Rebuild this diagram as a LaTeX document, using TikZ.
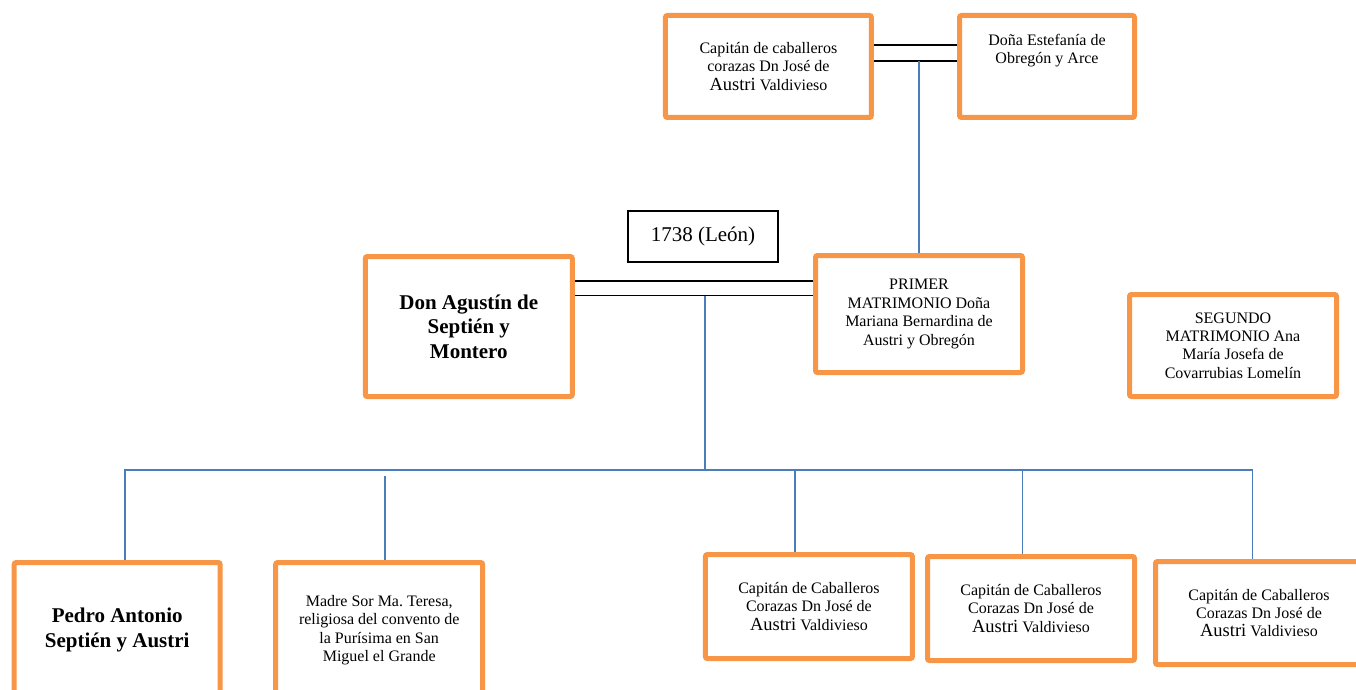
\documentclass[tikz,border=0pt]{standalone}
\usepackage{fontspec}
\setmainfont{Liberation Serif}
\definecolor{naranja}{HTML}{F79646}
\definecolor{azul}{HTML}{4A7EBB}
\newcommand{\Austri}{{\fontsize{18.5pt}{18.4pt}\selectfont Austri}}
\begin{document}
\begin{tikzpicture}[x=1pt, y=-1pt, font=\fontsize{16pt}{18.4pt}\selectfont,
  caja/.style={draw=naranja, line width=5pt, rounded corners=2pt, align=center, inner sep=0pt, minimum width=207pt},
  negrita/.style={font=\fontsize{21pt}{24.5pt}\selectfont\bfseries},
  enlace/.style={line width=1.6pt},
  rama/.style={draw=azul, line width=1.5pt}]
\useasboundingbox (0,0) rectangle (1356,690);
\node[caja, minimum width=206pt, minimum height=102pt] (padre) at (768.4,66.5) {Capitán de caballeros\\corazas Dn José de\\\Austri{} Valdivieso};
\node[caja, minimum width=175pt, minimum height=102pt, text depth=35pt] (madre) at (1047,66.5) {Doña Estefanía de\\Obregón y Arce};
\node[draw, line width=1.5pt, minimum width=150pt, minimum height=51pt, font=\fontsize{21pt}{24pt}\selectfont] (fecha) at (703,236.5) {1738 (León)};
\node[caja, negrita, minimum height=140pt, text depth=0pt] (agustin) at (468.8,326.5) {Don Agustín de\\Septién y\\Montero};
\node[caja, minimum height=117pt] (primer) at (919,314) {PRIMER\\MATRIMONIO Doña\\Mariana Bernardina de\\Austri y Obregón};
\node[caja, minimum height=102pt] (segundo) at (1233,345.5) {SEGUNDO\\MATRIMONIO Ana\\María Josefa de\\Covarrubias Lomelín};
\node[caja, negrita, minimum width=206pt, minimum height=135pt] (pedro) at (117.2,630) {Pedro Antonio\\Septién y Austri};
\node[caja, minimum height=135pt] (sor) at (379.2,630) {Madre Sor Ma.\ Teresa,\\religiosa del convento de\\la Purísima en San\\Miguel el Grande};
\node[caja, minimum height=104pt] (hijo1) at (808.9,606.5) {Capitán de Caballeros\\Corazas Dn José de\\\Austri{} Valdivieso};
\node[caja, minimum height=104pt] (hijo2) at (1031,608.5) {Capitán de Caballeros\\Corazas Dn José de\\\Austri{} Valdivieso};
\node[caja, minimum height=103pt] (hijo3) at (1259,613) {Capitán de Caballeros\\Corazas Dn José de\\\Austri{} Valdivieso};
\draw[enlace] ([yshift=21.5pt]padre.east) -- ([yshift=21.5pt]padre.east -| madre.west);
\draw[enlace] ([yshift=5.5pt]padre.east) -- ([yshift=5.5pt]padre.east -| madre.west);
\draw[rama] ([yshift=5.5pt]padre.east -| primer.north) -- (primer.north);
\draw[enlace] ([yshift=45.5pt]agustin.east) -- ([yshift=45.5pt]agustin.east -| primer.west);
\draw[enlace] ([yshift=31pt]agustin.east) -- ([yshift=31pt]agustin.east -| primer.west);
\coordinate (cruce) at (705,470);
\draw[rama] ([yshift=31pt]agustin.east -| cruce) -- (cruce);
\draw[rama] ([xshift=7.8pt]pedro.north) |- (cruce) -| ([xshift=-6.3pt]hijo3.north);
\draw[rama, shorten >=6pt] ([xshift=5.8pt]sor.north) -- ([xshift=5.8pt]sor.north |- cruce);
\foreach \h/\dx in {hijo1/-13.9, hijo2/-8.3}
  \draw[rama] ([xshift=\dx pt]\h.north) -- ([xshift=\dx pt]\h.north |- cruce);
\end{tikzpicture}
\end{document}
